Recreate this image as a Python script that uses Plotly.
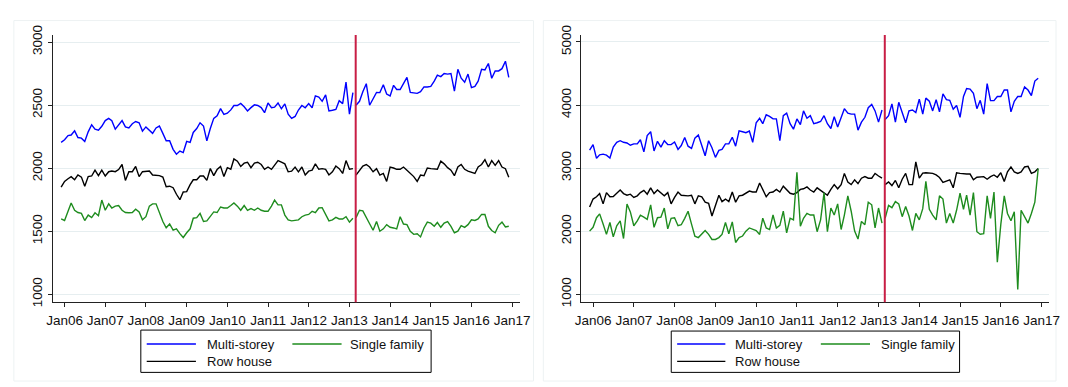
import pandas as pd
import plotly.graph_objects as go

# ---------------- data ----------------
months = pd.date_range("2005-12-01", periods=133, freq="MS")
BREAK = 87  # first month after the break (2013m3)
break_date = "2013-02-26"
tick_dates = pd.date_range("2006-01-01", "2017-01-01", freq="YS")
tick_text = ["Jan%02d" % (d.year % 100) for d in tick_dates]
series_names = ["Multi-storey", "Single family", "Row house"]

left_multi_pre = [2205, 2225, 2258, 2263, 2296, 2243, 2238, 2212, 2288, 2344,
                  2309, 2301, 2332, 2377, 2395, 2377, 2309, 2344, 2377, 2327,
                  2319, 2352, 2370, 2360, 2294, 2327, 2301, 2276, 2319, 2334,
                  2276, 2217, 2217, 2149, 2111, 2136, 2124, 2212, 2205, 2283,
                  2314, 2360, 2334, 2217, 2314, 2395, 2416, 2472, 2426, 2436,
                  2462, 2497, 2497, 2513, 2487, 2454, 2480, 2502, 2497, 2480,
                  2440, 2517, 2479, 2484, 2517, 2471, 2510, 2428, 2395, 2410,
                  2461, 2497, 2479, 2512, 2479, 2573, 2563, 2530, 2581, 2454,
                  2459, 2466, 2535, 2512, 2682, 2428, 2599]
left_multi_post = [2499, 2530, 2606, 2670, 2499, 2555, 2601, 2599, 2662, 2588,
                   2573, 2657, 2624, 2624, 2675, 2720, 2601, 2599, 2593, 2606,
                   2644, 2644, 2649, 2690, 2738, 2726, 2751, 2746, 2751, 2611,
                   2784, 2713, 2682, 2746, 2639, 2649, 2690, 2784, 2779, 2830,
                   2713, 2771, 2771, 2789, 2848, 2720]

left_row_pre = [1849, 1895, 1916, 1933, 1908, 1946, 1929, 1857, 1933, 1938,
                1985, 1941, 1985, 1938, 1972, 1977, 1972, 1989, 2029, 1903,
                1972, 1972, 2014, 1933, 1972, 1972, 1977, 1946, 1941, 1941,
                1929, 1853, 1857, 1845, 1793, 1750, 1811, 1814, 1869, 1908,
                1908, 1938, 1938, 1903, 1997, 1941, 1989, 2014, 1933, 2004,
                1992, 2073, 2055, 2014, 2040, 2047, 2004, 2040, 2047, 2029,
                1991, 2009, 1991, 2027, 2060, 2047, 2034, 1971, 1976, 2009,
                1971, 2009, 1946, 1976, 1984, 2034, 1991, 1996, 1991, 1946,
                1971, 2017, 1996, 1958, 2060, 1991, 1996]
left_row_post = [1945, 1984, 2017, 2029, 2009, 1971, 1996, 1945, 1958, 1895,
                 2009, 2001, 1991, 1991, 2009, 1984, 1958, 1933, 1895, 1945,
                 1940, 2001, 1996, 1996, 1991, 2055, 2034, 2004, 1984, 1940,
                 2009, 2029, 1991, 1976, 1966, 1958, 2009, 2029, 2067, 2009,
                 2060, 2022, 2060, 2009, 1996, 1928]

left_single_pre = [1597, 1585, 1658, 1724, 1666, 1648, 1641, 1585, 1628, 1608,
                   1646, 1623, 1747, 1666, 1717, 1684, 1699, 1704, 1666, 1648,
                   1646, 1648, 1674, 1653, 1590, 1615, 1699, 1717, 1717, 1648,
                   1577, 1527, 1557, 1508, 1519, 1481, 1450, 1488, 1519, 1603,
                   1608, 1641, 1577, 1582, 1615, 1653, 1648, 1692, 1684, 1684,
                   1704, 1724, 1699, 1666, 1704, 1666, 1679, 1666, 1684, 1666,
                   1658, 1658, 1699, 1747, 1709, 1709, 1628, 1590, 1582, 1585,
                   1590, 1615, 1628, 1633, 1658, 1648, 1684, 1687, 1628, 1582,
                   1590, 1610, 1597, 1597, 1615, 1572, 1603]
left_single_post = [1608, 1666, 1661, 1615, 1559, 1508, 1577, 1500, 1519, 1552,
                    1531, 1526, 1519, 1615, 1557, 1552, 1500, 1475, 1480, 1455,
                    1526, 1572, 1564, 1539, 1569, 1531, 1564, 1577, 1539, 1488,
                    1500, 1544, 1531, 1552, 1590, 1585, 1597, 1633, 1633, 1539,
                    1506, 1488, 1547, 1572, 1534, 1539]

right_multi_pre = [3287, 3373, 3155, 3211, 3221, 3206, 3160, 3333, 3409, 3434,
                   3409, 3399, 3363, 3384, 3384, 3450, 3257, 3516, 3577, 3272,
                   3424, 3333, 3434, 3373, 3373, 3414, 3297, 3358, 3485, 3348,
                   3312, 3475, 3526, 3348, 3196, 3434, 3323, 3170, 3282, 3297,
                   3384, 3384, 3490, 3348, 3592, 3577, 3562, 3587, 3409, 3719,
                   3790, 3704, 3846, 3821, 3780, 3780, 3434, 3831, 3872, 3704,
                   3617, 3780, 3689, 3907, 3790, 3831, 3704, 3719, 3739, 3831,
                   3704, 3628, 3816, 3653, 3806, 3943, 3872, 3856, 3856, 3602,
                   3729, 3806, 3958, 4009, 3907, 3729, 3922]
right_multi_post = [3770, 3831, 4019, 3729, 4044, 3872, 3719, 3907, 3922, 3882,
                    4095, 3856, 4110, 4060, 3907, 4085, 3892, 4177, 4085, 4075,
                    3933, 3994, 3806, 4136, 4263, 4253, 4187, 3943, 4075, 3856,
                    4339, 4070, 4070, 4136, 4136, 4238, 4238, 3892, 4060, 4136,
                    4136, 4288, 4238, 4151, 4380, 4426]

right_row_pre = [2382, 2509, 2545, 2596, 2433, 2611, 2545, 2550, 2601, 2652,
                 2596, 2570, 2586, 2535, 2560, 2611, 2647, 2586, 2687, 2596,
                 2652, 2611, 2560, 2611, 2433, 2535, 2621, 2570, 2560, 2560,
                 2570, 2433, 2560, 2545, 2459, 2443, 2240, 2408, 2570, 2469,
                 2509, 2469, 2621, 2459, 2560, 2570, 2596, 2636, 2621, 2621,
                 2763, 2647, 2545, 2611, 2621, 2662, 2621, 2713, 2662, 2601,
                 2586, 2611, 2662, 2672, 2702, 2652, 2621, 2687, 2647, 2611,
                 2570, 2662, 2738, 2672, 2738, 2916, 2779, 2738, 2814, 2753,
                 2840, 2865, 2840, 2840, 2916, 2875, 2840]
right_row_post = [2738, 2779, 2723, 2804, 2687, 2824, 2916, 2738, 2740, 3100,
                  2840, 2920, 2926, 2916, 2916, 2891, 2850, 2774, 2789, 2814,
                  2687, 2926, 2916, 2906, 2906, 2906, 2814, 2855, 2865, 2865,
                  2824, 2865, 2891, 2855, 2926, 2789, 2941, 3018, 2941, 2916,
                  2941, 3018, 3028, 2916, 2941, 2992]

right_single_pre = [2000, 2061, 2213, 2274, 2112, 1949, 2137, 1909, 2086, 2162,
                    1883, 2431, 2305, 2086, 2162, 2254, 2223, 2188, 2416, 2061,
                    2213, 2223, 2366, 2036, 2203, 2213, 2086, 2102, 2203, 2315,
                    2112, 1919, 1898, 1959, 2010, 1949, 1868, 1868, 1898, 1949,
                    2137, 1959, 2147, 1820, 1897, 1923, 2000, 2051, 2025, 2010,
                    1948, 2205, 2051, 2025, 2256, 2051, 2092, 2318, 1974, 2205,
                    2179, 2933, 2077, 2204, 2281, 2255, 2255, 1991, 2179, 2611,
                    1991, 2367, 2255, 2433, 2026, 2255, 2560, 2316, 2001, 1874,
                    2154, 2103, 2459, 2418, 2052, 2367, 2128]
right_single_post = [2204, 2408, 2372, 2469, 2433, 2230, 2392, 2240, 2011, 2281,
                     2179, 2357, 2789, 2347, 2255, 2179, 2560, 2509, 2128, 2281,
                     2128, 2331, 2601, 2347, 2570, 2255, 2611, 1991, 1950, 1960,
                     2560, 2204, 2621, 1508, 2103, 2560, 2281, 2164, 2306, 1076,
                     2331, 2230, 2128, 2281, 2459, 2992]

for arr in [left_multi_pre, left_row_pre, left_single_pre,
            right_multi_pre, right_row_pre, right_single_pre]:
    assert len(arr) == BREAK, len(arr)
for arr in [left_multi_post, left_row_post, left_single_post,
            right_multi_post, right_row_post, right_single_post]:
    assert len(arr) == 133 - BREAK, len(arr)

# ---------------- style ----------------
W, H = 1068, 387
FONT = "Liberation Sans, Arial, Helvetica, sans-serif"
FS = 13.5
C_BLUE = "#0000ff"
C_GREEN = "#1e8c1e"
C_BLACK = "#000000"
C_RED = "#c81e45"
C_GRID = "#e6eef0"
LW = 1.4


def px(x):
    return x / W


def py(y):
    return 1 - y / H


fig = go.Figure()

panels = [
    ("x", "y", left_multi_pre, left_multi_post, left_single_pre, left_single_post,
     left_row_pre, left_row_post),
    ("x2", "y2", right_multi_pre, right_multi_post, right_single_pre, right_single_post,
     right_row_pre, right_row_post),
]
for xa, ya, mpre, mpost, spre, spost, rpre, rpost in panels:
    for name, pre, post, col in [("Row house", rpre, rpost, C_BLACK),
                                 ("Single family", spre, spost, C_GREEN),
                                 ("Multi-storey", mpre, mpost, C_BLUE)]:
        fig.add_trace(go.Scatter(x=months[:BREAK], y=pre, mode="lines", name=name,
                                 line=dict(color=col, width=LW), xaxis=xa, yaxis=ya,
                                 showlegend=False, hoverinfo="skip"))
        fig.add_trace(go.Scatter(x=months[BREAK:], y=post, mode="lines", name=name,
                                 line=dict(color=col, width=LW), xaxis=xa, yaxis=ya,
                                 showlegend=False, hoverinfo="skip"))

xrange = ["2005-09-15", "2017-03-09"]
ydom = [py(304), py(26)]
common_x = dict(range=xrange, tickvals=list(tick_dates), ticktext=tick_text,
                showgrid=False, showline=True, linecolor="#222", linewidth=1,
                ticks="outside", ticklen=4, tickcolor="#222", zeroline=False,
                tickfont=dict(family=FONT, size=FS, color="#111"),
                ticklabelstandoff=2)
common_y = dict(showgrid=True, gridcolor=C_GRID, gridwidth=1, showline=True,
                linecolor="#222", linewidth=1, ticks="outside", ticklen=4,
                tickcolor="#222", zeroline=False, tickangle=-90,
                tickfont=dict(family=FONT, size=FS, color="#111"))

fig.update_layout(
    width=W, height=H, margin=dict(l=0, r=0, t=0, b=0),
    paper_bgcolor="white", plot_bgcolor="white",
    font=dict(family=FONT, size=FS, color="#111"),
    showlegend=False,
    xaxis=dict(domain=[px(47.3), px(522)], anchor="y", **common_x),
    yaxis=dict(domain=ydom, anchor="x", range=[937, 3056],
               tickvals=[1000, 1500, 2000, 2500, 3000], **common_y),
    xaxis2=dict(domain=[px(584.3), px(1060)], anchor="y2", **common_x),
    yaxis2=dict(domain=ydom, anchor="x2", range=[873, 5111],
                tickvals=[1000, 2000, 3000, 4000, 5000], **common_y),
)

shapes = []
# faint outlines of the two graph regions
shapes.append(dict(type="rect", xref="paper", yref="paper", x0=px(8), x1=px(536),
                   y0=py(386), y1=py(11), line=dict(color="#edf2f3", width=1), layer="below"))
shapes.append(dict(type="rect", xref="paper", yref="paper", x0=px(546), x1=px(1067),
                   y0=py(386), y1=py(11), line=dict(color="#edf2f3", width=1), layer="below"))
# break lines
for xr, yr in [("x", "y domain"), ("x2", "y2 domain")]:
    shapes.append(dict(type="line", xref=xr, yref=yr, x0=break_date, x1=break_date,
                       y0=0, y1=1, line=dict(color=C_RED, width=2)))

annotations = []
# manual legends
legend_boxes = [
    # box x0, x1, y0, y1, col1 line x0, x1, text x, col2 line x0, x1, text x
    (137, 432, 333, 377, 143, 193, 202, 291, 341, 348),
    (676, 969, 334, 377, 682, 731, 739, 828, 878, 887),
]
for bx0, bx1, by0, by1, l1a, l1b, t1, l2a, l2b, t2 in legend_boxes:
    shapes.append(dict(type="rect", xref="paper", yref="paper", x0=px(bx0), x1=px(bx1),
                       y0=py(by1), y1=py(by0), line=dict(color="#000", width=1),
                       fillcolor="white"))
    entries = [(l1a, l1b, t1, 347.5, C_BLUE, series_names[0]),
               (l2a, l2b, t2, 347.5, C_GREEN, series_names[1]),
               (l1a, l1b, t1, 365.5, C_BLACK, series_names[2])]
    for la, lb, tx, yy, col, txt in entries:
        shapes.append(dict(type="line", xref="paper", yref="paper", x0=px(la), x1=px(lb),
                           y0=py(yy), y1=py(yy), line=dict(color=col, width=LW)))
        annotations.append(dict(xref="paper", yref="paper", x=px(tx), y=py(yy),
                                text=txt, showarrow=False, xanchor="left",
                                yanchor="middle",
                                font=dict(family=FONT, size=13, color="#111")))

fig.update_layout(shapes=shapes, annotations=annotations)

fig.write_html("out.html", config={"displayModeBar": False},
               post_script="document.body.style.margin='0';")
